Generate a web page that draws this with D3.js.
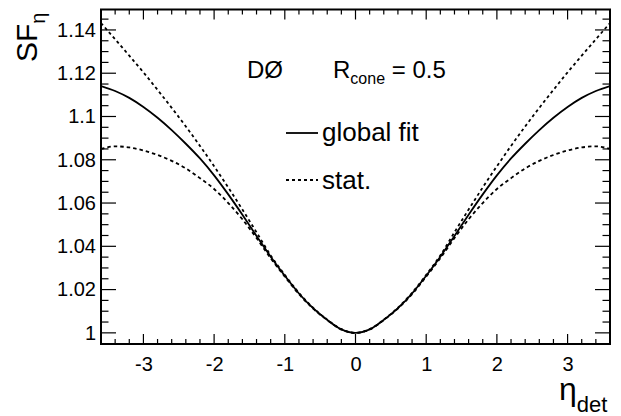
<!DOCTYPE html>
<html>
<head>
<meta charset="utf-8">
<script src="https://cdn.jsdelivr.net/npm/d3@7"></script>
<style>
  html, body { margin: 0; padding: 0; background: #fff; }
  svg { display: block; }
  text { font-family: "Liberation Sans", Arial, Helvetica, sans-serif; fill: #000; }
</style>
</head>
<body>
<svg id="chart" width="621" height="416"></svg>
<script>
// eta_det sampling points
const etaDet = [-3.6, -3.4, -3.2, -3.0, -2.8, -2.6, -2.4, -2.2, -2.0, -1.8, -1.6, -1.4, -1.2, -1.0, -0.8, -0.6, -0.4, -0.2,
                 0.0,
                 0.2, 0.4, 0.6, 0.8, 1.0, 1.2, 1.4, 1.6, 1.8, 2.0, 2.2, 2.4, 2.6, 2.8, 3.0, 3.2, 3.4, 3.6];

// global fit
const globalFit = [1.1141, 1.1118, 1.1086, 1.1044, 1.0994, 1.0937, 1.0874, 1.0806, 1.0728, 1.0640, 1.0546, 1.0448, 1.0352, 1.0264, 1.0182, 1.0114, 1.0060, 1.0016,
                   1.0000,
                   1.0016, 1.0060, 1.0114, 1.0182, 1.0264, 1.0352, 1.0448, 1.0546, 1.0640, 1.0728, 1.0806, 1.0874, 1.0937, 1.0994, 1.1044, 1.1086, 1.1118, 1.1141];

// statistical band, upper edge
const statUpper = [1.1432, 1.1357, 1.1281, 1.1204, 1.1123, 1.1040, 1.0954, 1.0864, 1.0770, 1.0672, 1.0570, 1.0465, 1.0358, 1.0268, 1.0185, 1.0116, 1.0061, 1.0017,
                   1.0000,
                   1.0017, 1.0061, 1.0116, 1.0185, 1.0268, 1.0358, 1.0465, 1.0570, 1.0672, 1.0770, 1.0864, 1.0954, 1.1040, 1.1123, 1.1204, 1.1281, 1.1357, 1.1432];

// statistical band, lower edge
const statLower = [1.0850, 1.0862, 1.0857, 1.0843, 1.0822, 1.0795, 1.0760, 1.0715, 1.0665, 1.0600, 1.0525, 1.0438, 1.0345, 1.0260, 1.0179, 1.0112, 1.0059, 1.0015,
                   1.0000,
                   1.0015, 1.0059, 1.0112, 1.0179, 1.0260, 1.0345, 1.0438, 1.0525, 1.0600, 1.0665, 1.0715, 1.0760, 1.0795, 1.0822, 1.0843, 1.0857, 1.0862, 1.0850];

const xMajorTicks = [-3, -2, -1, 0, 1, 2, 3];
const xTickLabels = ["-3", "-2", "-1", "0", "1", "2", "3"];
const yMajorTicks = [1.00, 1.02, 1.04, 1.06, 1.08, 1.10, 1.12, 1.14];
const yTickLabels = ["1", "1.02", "1.04", "1.06", "1.08", "1.1", "1.12", "1.14"];

const svg = d3.select("#chart");
const frame = { left: 101, right: 610, top: 9.5, bottom: 344 };

const x = d3.scaleLinear().domain([-3.6, 3.6]).range([frame.left, frame.right]);
const y = d3.scaleLinear().domain([0.99485, 1.14945]).range([frame.bottom, frame.top]);

// clip for the curves
svg.append("defs").append("clipPath").attr("id", "plotClip")
  .append("rect")
  .attr("x", frame.left).attr("y", frame.top)
  .attr("width", frame.right - frame.left).attr("height", frame.bottom - frame.top);

// minor tick positions
const xMinor = d3.range(-36, 37, 2).map(v => v / 10).filter(v => !xMajorTicks.some(t => Math.abs(t - v) < 1e-9));
const yMinor = d3.range(200, 230, 1).map(v => v * 0.005).filter(v => v >= 0.995 && v <= 1.1494 && !yMajorTicks.some(t => Math.abs(t - v) < 1e-9));

const xMajorLen = 10, xMinorLen = 5, yMajorLen = 15, yMinorLen = 7.5;

// bottom axis with labels
const bottomAxis = d3.axisBottom(x).tickValues(xMajorTicks).tickSize(0).tickPadding(13)
  .tickFormat((d, i) => xTickLabels[i]);
const gB = svg.append("g").attr("transform", `translate(0,${frame.bottom})`).call(bottomAxis);
gB.select(".domain").remove();
gB.selectAll("text").attr("font-size", 20).attr("font-family", "Liberation Sans, Arial, sans-serif").attr("fill", "#000");

// left axis with labels
const leftAxis = d3.axisLeft(y).tickValues(yMajorTicks).tickSize(0).tickPadding(5)
  .tickFormat((d, i) => yTickLabels[i]);
const gL = svg.append("g").attr("transform", `translate(${frame.left},0)`).call(leftAxis);
gL.select(".domain").remove();
gL.selectAll("text").attr("font-size", 20).attr("font-family", "Liberation Sans, Arial, sans-serif").attr("fill", "#000");

// tick marks on all four sides
const ticks = svg.append("g").attr("stroke", "#000").attr("stroke-width", 1.2);
function xTick(v, len) {
  ticks.append("line").attr("x1", x(v)).attr("x2", x(v)).attr("y1", frame.bottom).attr("y2", frame.bottom - len);
  ticks.append("line").attr("x1", x(v)).attr("x2", x(v)).attr("y1", frame.top).attr("y2", frame.top + len);
}
function yTick(v, len) {
  ticks.append("line").attr("y1", y(v)).attr("y2", y(v)).attr("x1", frame.left).attr("x2", frame.left + len);
  ticks.append("line").attr("y1", y(v)).attr("y2", y(v)).attr("x1", frame.right).attr("x2", frame.right - len);
}
xMajorTicks.forEach(v => xTick(v, xMajorLen));
xMinor.forEach(v => xTick(v, xMinorLen));
yMajorTicks.forEach(v => yTick(v, yMajorLen));
yMinor.forEach(v => yTick(v, yMinorLen));

// frame
svg.append("rect")
  .attr("x", frame.left).attr("y", frame.top)
  .attr("width", frame.right - frame.left).attr("height", frame.bottom - frame.top)
  .attr("fill", "none").attr("stroke", "#000").attr("stroke-width", 2);

// curves
const line = (vals) => d3.line()
  .x((d, i) => x(etaDet[i]))
  .y(d => y(d))
  .curve(d3.curveMonotoneX)(vals);

const curves = svg.append("g").attr("clip-path", "url(#plotClip)").attr("fill", "none").attr("stroke", "#000");
curves.append("path").attr("d", line(statUpper)).attr("stroke-width", 1.8).attr("stroke-dasharray", "3,3");
curves.append("path").attr("d", line(statLower)).attr("stroke-width", 1.8).attr("stroke-dasharray", "3.5,3");
curves.append("path").attr("d", line(globalFit)).attr("stroke-width", 1.8);

// annotations
const ann = svg.append("g");
ann.append("text").attr("x", 247).attr("y", 78).attr("font-size", 24).text("DØ");
const rc = ann.append("text").attr("x", 333).attr("y", 78).attr("font-size", 24);
rc.append("tspan").text("R");
rc.append("tspan").attr("font-size", 16).attr("dy", 6).text("cone");
rc.append("tspan").attr("dy", -6).text(" = 0.5");

// legend
const leg = svg.append("g");
leg.append("line").attr("x1", 286).attr("x2", 318).attr("y1", 133).attr("y2", 133)
  .attr("stroke", "#000").attr("stroke-width", 1.8);
leg.append("text").attr("x", 322).attr("y", 141).attr("font-size", 26).text("global fit");
leg.append("line").attr("x1", 286).attr("x2", 318).attr("y1", 180).attr("y2", 180)
  .attr("stroke", "#000").attr("stroke-width", 1.8).attr("stroke-dasharray", "3,3");
leg.append("text").attr("x", 322).attr("y", 189).attr("font-size", 26).text("stat.");

// axis titles
const yt = svg.append("text").attr("transform", "translate(37,62) rotate(-90)").attr("font-size", 30);
yt.append("tspan").text("SF");
yt.append("tspan").attr("font-size", 20).attr("dy", 8).text("η");

const xt = svg.append("text").attr("x", 559).attr("y", 400).attr("font-size", 32);
xt.append("tspan").text("η");
xt.append("tspan").attr("font-size", 22).attr("dy", 12).text("det");
</script>
</body>
</html>
